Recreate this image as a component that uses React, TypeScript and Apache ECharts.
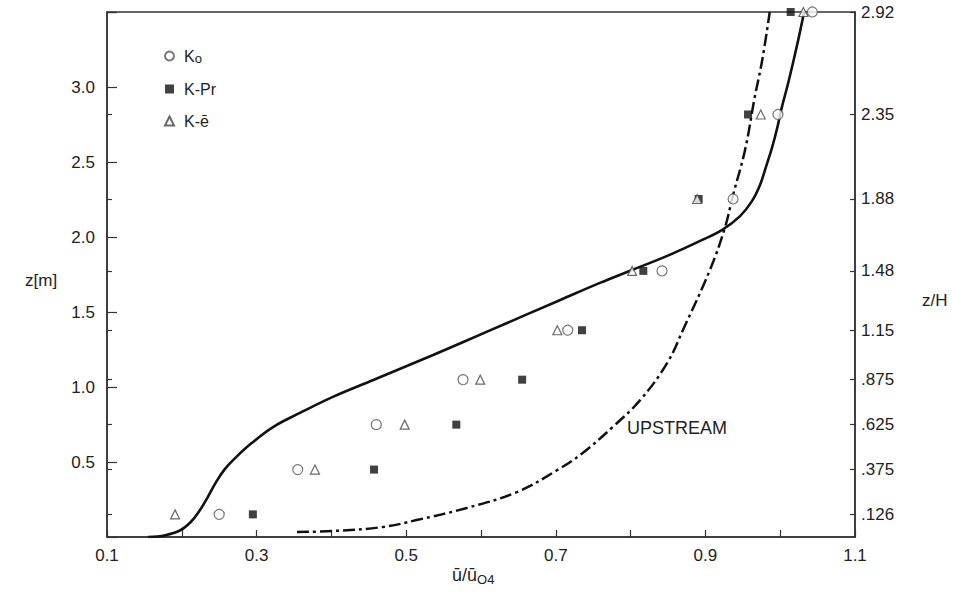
import React, { useEffect, useRef } from "react";
import * as echarts from "echarts";

// Measurement heights z [m] (= z/H levels times H)
const zLevels = [0.151, 0.45, 0.75, 1.05, 1.38, 1.776, 2.256, 2.82, 3.504];
// u/u04 for each model
const koU = [0.25, 0.355, 0.46, 0.576, 0.716, 0.842, 0.937, 0.997, 1.043];
const kprU = [0.295, 0.457, 0.567, 0.655, 0.735, 0.817, 0.891, 0.957, 1.014];
const keU = [0.191, 0.378, 0.498, 0.599, 0.702, 0.802, 0.889, 0.974, 1.031];

// Measured profile (solid curve)
const solidU = [0.155, 0.178, 0.198, 0.212, 0.223, 0.234, 0.245, 0.257, 0.272, 0.293, 0.322, 0.358, 0.402, 0.456, 0.536, 0.612, 0.706, 0.759, 0.802, 0.849, 0.893, 0.923, 0.946, 0.962, 0.973, 0.981, 0.989, 0.996, 1.002, 1.01, 1.018, 1.025, 1.032];
const solidZ = [0.0, 0.012, 0.045, 0.1, 0.17, 0.26, 0.36, 0.45, 0.53, 0.625, 0.734, 0.828, 0.935, 1.048, 1.215, 1.379, 1.582, 1.696, 1.782, 1.876, 1.976, 2.052, 2.14, 2.24, 2.35, 2.47, 2.597, 2.73, 2.864, 3.017, 3.184, 3.338, 3.504];

// Upstream profile (dash-dot curve)
const upU = [0.354, 0.402, 0.469, 0.514, 0.581, 0.648, 0.702, 0.736, 0.776, 0.813, 0.849, 0.87, 0.906, 0.926, 0.937, 0.953, 0.966, 0.976, 0.986];
const upZ = [0.033, 0.04, 0.067, 0.113, 0.194, 0.3, 0.447, 0.561, 0.734, 0.915, 1.162, 1.382, 1.782, 2.063, 2.283, 2.583, 2.937, 3.184, 3.504];

// Right axis (z/H) ticks and labels
const zhTickValues = [0.126, 0.375, 0.625, 0.875, 1.15, 1.48, 1.88, 2.35, 2.92];
const zhTickLabels = [".126", ".375", ".625", ".875", "1.15", "1.48", "1.88", "2.35", "2.92"];
// Bottom axis labels
const xTickLabels = ["0.1", "0.3", "0.5", "0.7", "0.9", "1.1"];
// Left axis labels
const zTickLabels = ["0.5", "1.0", "1.5", "2.0", "2.5", "3.0"];

const FONT = "'Liberation Sans', Arial, sans-serif";
const INK = "#222";

export default function App() {
  const ref = useRef<HTMLDivElement>(null);
  useEffect(() => {
    if (!ref.current) return;
    const chart = echarts.init(ref.current, null, { renderer: "svg" });
    const zip = (a: number[], b: number[]) => a.map((v, i) => [v, b[i]]);
    const axisLine = { show: true, lineStyle: { color: "#333", width: 1.5 } };
    const option: any = {
      animation: false,
      backgroundColor: "#fff",
      textStyle: { fontFamily: FONT },
      grid: { left: 107, right: 98, top: 12, bottom: 64, show: true, borderColor: "#333", borderWidth: 1.5, backgroundColor: "transparent" },
      legend: {
        orient: "vertical",
        left: 159,
        top: 43,
        itemWidth: 9,
        itemHeight: 9,
        itemGap: 16,
        data: ["Ko", "K-Pr", "K-ē"],
        formatter: (name: string) => (name === "Ko" ? "{k|K}{s|o}" : "{k|" + name + "}"),
        textStyle: {
          padding: [0, 0, 0, 5],
          rich: {
            k: { fontSize: 16, lineHeight: 18, color: INK, fontFamily: FONT },
            s: { fontSize: 13, lineHeight: 13, verticalAlign: "bottom", color: INK, fontFamily: FONT },
          },
        },
      },
      xAxis: {
        type: "value",
        min: 0.1,
        max: 1.1,
        interval: 0.1,
        axisLine,
        splitLine: { show: false },
        axisTick: { show: true, inside: true, length: 7, lineStyle: { color: "#333", width: 1.2 } },
        axisLabel: {
          margin: 10,
          fontSize: 17,
          color: INK,
          fontFamily: FONT,
          formatter: (v: number) => {
            const s = v.toFixed(1);
            return xTickLabels.indexOf(s) >= 0 ? s : "";
          },
        },
      },
      yAxis: [
        {
          type: "value",
          position: "left",
          min: 0,
          max: 3.504,
          interval: 0.5,
          axisLine,
          splitLine: { show: false },
          axisTick: { show: true, inside: true, length: 10, lineStyle: { color: "#333", width: 1.2 } },
          axisLabel: {
            margin: 12,
            fontSize: 17,
            color: INK,
            fontFamily: FONT,
            formatter: (v: number) => {
              const s = v.toFixed(1);
              return zTickLabels.indexOf(s) >= 0 && Math.abs(v - parseFloat(s)) < 1e-6 ? s : "";
            },
          },
        },
        {
          type: "value",
          position: "left",
          min: 0,
          max: 3.504,
          axisLine: { show: false },
          splitLine: { show: false },
          axisTick: { show: true, inside: true, length: 5, customValues: zLevels.slice(0, 8), lineStyle: { color: "#333", width: 1.2 } },
          axisLabel: { show: false },
        },
        {
          type: "value",
          position: "right",
          min: 0,
          max: 2.92,
          axisLine,
          splitLine: { show: false },
          axisTick: { show: true, inside: true, length: 5, customValues: zhTickValues, lineStyle: { color: "#333", width: 1.2 } },
          axisLabel: {
            show: true,
            customValues: zhTickValues,
            margin: 6,
            fontSize: 17,
            color: INK,
            fontFamily: FONT,
            formatter: (v: number) => {
              const i = zhTickValues.findIndex((t) => Math.abs(t - v) < 1e-6);
              return i >= 0 ? zhTickLabels[i] : "";
            },
          },
        },
      ],
      series: [
        {
          name: "measured",
          type: "line",
          data: zip(solidU, solidZ),
          showSymbol: false,
          symbol: "none",
          smooth: 0.4,
          lineStyle: { color: "#111", width: 2.6 },
          z: 2,
        },
        {
          name: "upstream",
          type: "line",
          data: zip(upU, upZ),
          showSymbol: false,
          symbol: "none",
          smooth: 0.4,
          lineStyle: { color: "#111", width: 2.5, type: [12, 4, 3, 4] },
          z: 2,
        },
        {
          name: "Ko",
          type: "scatter",
          data: zip(koU, zLevels),
          symbol: "circle",
          symbolSize: 10,
          clip: false,
          itemStyle: { color: "#fff", borderColor: "#555", borderWidth: 1.2 },
          z: 3,
        },
        {
          name: "K-Pr",
          type: "scatter",
          data: zip(kprU, zLevels),
          symbol: "rect",
          symbolSize: 8,
          clip: false,
          itemStyle: { color: "#111" },
          z: 3,
        },
        {
          name: "K-ē",
          type: "scatter",
          data: zip(keU, zLevels),
          symbol: "triangle",
          symbolSize: 9,
          clip: false,
          itemStyle: { color: "#fff", borderColor: "#444", borderWidth: 1.2 },
          z: 3,
        },
      ],
      graphic: [
        { type: "text", left: 25, top: 272, style: { text: "z[m]", fontSize: 17, fill: INK, fontFamily: FONT } },
        { type: "text", left: 922, top: 292, style: { text: "z/H", fontSize: 17, fill: INK, fontFamily: FONT } },
        { type: "text", left: 627, top: 419, style: { text: "UPSTREAM", fontSize: 18, fill: INK, fontFamily: FONT } },
        {
          type: "text",
          left: 452,
          top: 566,
          style: {
            text: "{a|ū/ū}{b|O4}",
            fill: INK,
            rich: {
              a: { fontSize: 18, lineHeight: 22, fill: INK, fontFamily: FONT },
              b: { fontSize: 13, lineHeight: 13, verticalAlign: "bottom", fill: INK, fontFamily: FONT },
            },
          },
        },
      ],
    };
    chart.setOption(option);
    return () => chart.dispose();
  }, []);
  return <div ref={ref} style={{ position: "fixed", left: 0, top: 0, width: 953, height: 601 }} />;
}
